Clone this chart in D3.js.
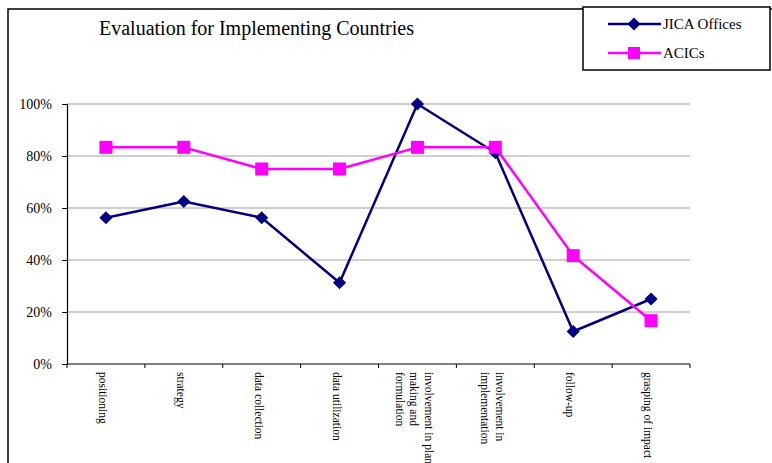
<!DOCTYPE html>
<html>
<head>
<meta charset="utf-8">
<script src="https://cdn.jsdelivr.net/npm/d3@7"></script>
<style>
  html, body { margin: 0; padding: 0; background: #fff; }
  svg { display: block; }
  svg text { font-family: "Liberation Serif", "Times New Roman", serif !important; }
</style>
</head>
<body>
<svg id="chart" width="772" height="463"></svg>
<script>
// Evaluation items (each label split into its printed lines)
const categories = [
  ["positioning"],
  ["strategy"],
  ["data collection"],
  ["data utilization"],
  ["involvement in plan", "making and", "formulation"],
  ["involvement in", "implementation"],
  ["follow-up"],
  ["grasping of impact"]
];
const seriesNames = ["JICA Offices", "ACICs"];
const jicaOffices = [9/16, 10/16, 9/16, 5/16, 16/16, 13/16, 2/16, 4/16];
const acics = [10/12, 10/12, 9/12, 9/12, 10/12, 10/12, 5/12, 2/12];
const yTicks = [0, 0.2, 0.4, 0.6, 0.8, 1.0];
const titleText = "Evaluation for Implementing Countries";

const svg = d3.select("#chart");
const plot = { left: 67, right: 690, top: 104, bottom: 364 };
const colors = ["#000080", "#FF00FF"];

// outer chart frame
svg.append("rect")
  .attr("x", 8).attr("y", 9).attr("width", 820).attr("height", 520)
  .attr("fill", "none").attr("stroke", "#000").attr("stroke-width", 1.5);

// title
svg.append("text")
  .attr("x", 99).attr("y", 35)
  .attr("font-size", 20).attr("fill", "#000")
  .text(titleText);

const x = d3.scaleBand()
  .domain(d3.range(categories.length))
  .range([plot.left, plot.right])
  .paddingInner(0).paddingOuter(0);

const y = d3.scaleLinear().domain([0, 1]).range([plot.bottom, plot.top]);

// horizontal gridlines
svg.append("g")
  .selectAll("line")
  .data(yTicks.filter(d => d > 0))
  .join("line")
  .attr("x1", plot.left).attr("x2", plot.right)
  .attr("y1", d => y(d)).attr("y2", d => y(d))
  .attr("stroke", "#a0a0a0").attr("stroke-width", 1);

// y axis
const yAxis = svg.append("g")
  .attr("transform", `translate(${plot.left},0)`)
  .call(d3.axisLeft(y).tickValues(yTicks).tickFormat(d3.format(".0%")).tickSize(5).tickPadding(10));
yAxis.attr("font-family", null);
yAxis.select(".domain").attr("stroke", "#000").attr("stroke-width", 1.2);
yAxis.selectAll(".tick line").attr("stroke", "#000");
yAxis.selectAll(".tick text")
  .attr("font-size", 14).attr("fill", "#000");

// x axis: ticks on category boundaries
const xAxis = svg.append("g")
  .attr("transform", `translate(0,${plot.bottom})`);
xAxis.append("line")
  .attr("x1", plot.left).attr("x2", plot.right)
  .attr("stroke", "#000").attr("stroke-width", 1.2);
xAxis.selectAll("line.tk")
  .data(d3.range(categories.length + 1))
  .join("line")
  .attr("class", "tk")
  .attr("x1", i => plot.left + i * x.bandwidth())
  .attr("x2", i => plot.left + i * x.bandwidth())
  .attr("y1", 0).attr("y2", 4)
  .attr("stroke", "#000");

// rotated category labels
const lineGap = 14.5;
const labels = svg.append("g");
categories.forEach((lines, i) => {
  const cx = x(i) + x.bandwidth() / 2 - 3;
  const n = lines.length;
  lines.forEach((ln, j) => {
    const off = ((n - 1) / 2 - j) * lineGap;
    labels.append("text")
      .attr("transform", `translate(${cx + off},${plot.bottom + 8}) rotate(90)`)
      .attr("dominant-baseline", "central")
      .attr("font-size", 11.5).attr("fill", "#000")
      .text(ln);
  });
});

// series lines and markers
const series = [jicaOffices, acics];
const line = d3.line()
  .x((d, i) => x(i) + x.bandwidth() / 2)
  .y(d => y(d));

const diamond = d3.symbol().type(d3.symbolDiamond2).size(110);

series.forEach((vals, s) => {
  const g = svg.append("g");
  g.append("path")
    .datum(vals)
    .attr("d", line)
    .attr("fill", "none")
    .attr("stroke", colors[s])
    .attr("stroke-width", 2.5)
    .attr("stroke-linejoin", "round");
  if (s === 0) {
    g.selectAll("path.m")
      .data(vals)
      .join("path")
      .attr("class", "m")
      .attr("transform", (d, i) => `translate(${x(i) + x.bandwidth() / 2},${y(d)})`)
      .attr("d", diamond)
      .attr("fill", colors[s]);
  } else {
    g.selectAll("rect.m")
      .data(vals)
      .join("rect")
      .attr("class", "m")
      .attr("x", (d, i) => x(i) + x.bandwidth() / 2 - 6.5)
      .attr("y", d => y(d) - 6.5)
      .attr("width", 13).attr("height", 13)
      .attr("fill", colors[s]);
  }
});

// legend
const legend = svg.append("g");
legend.append("rect")
  .attr("x", 583).attr("y", 7).attr("width", 187).attr("height", 63)
  .attr("fill", "#fff").attr("stroke", "#000").attr("stroke-width", 1.5);
const legendY = [24, 53];
seriesNames.forEach((name, s) => {
  const ly = legendY[s];
  legend.append("line")
    .attr("x1", 608).attr("x2", 661)
    .attr("y1", ly).attr("y2", ly)
    .attr("stroke", colors[s]).attr("stroke-width", 2.5);
  if (s === 0) {
    legend.append("path")
      .attr("transform", `translate(634,${ly})`)
      .attr("d", diamond)
      .attr("fill", colors[s]);
  } else {
    legend.append("rect")
      .attr("x", 628).attr("y", ly - 6).attr("width", 12).attr("height", 12)
      .attr("fill", colors[s]);
  }
  legend.append("text")
    .attr("x", 663).attr("y", ly)
    .attr("dominant-baseline", "central")
    .attr("font-size", 15).attr("fill", "#000")
    .text(name);
});
</script>
</body>
</html>
